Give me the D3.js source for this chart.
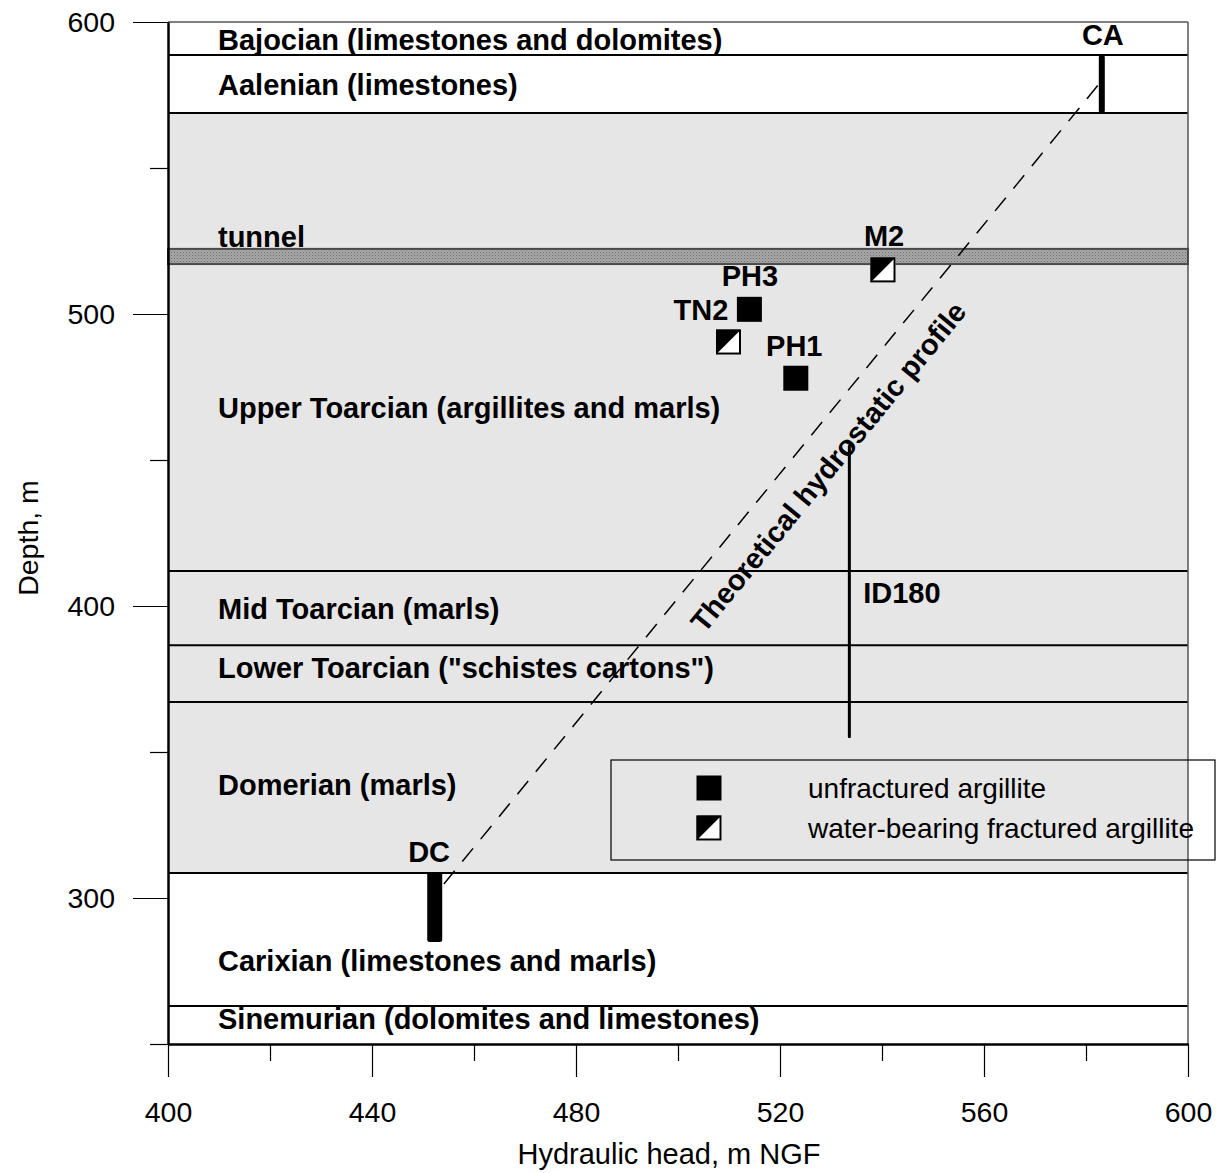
<!DOCTYPE html>
<html>
<head>
<meta charset="utf-8">
<script src="https://cdn.jsdelivr.net/npm/d3@7"></script>
<style>
  html, body { margin: 0; padding: 0; background: #fff; }
  svg { display: block; font-family: "Liberation Sans", Arial, sans-serif; }
</style>
</head>
<body>
<svg id="chart" width="1224" height="1173"></svg>
<script>
// ---------------- data ----------------
const layerNames = [
  "Bajocian (limestones and dolomites)",
  "Aalenian (limestones)",
  "Upper Toarcian (argillites and marls)",
  "Mid Toarcian (marls)",
  "Lower Toarcian (\"schistes cartons\")",
  "Domerian (marls)",
  "Carixian (limestones and marls)",
  "Sinemurian (dolomites and limestones)"
];
const layerTops    = [600, 588.7, 568.8, 412.0, 386.6, 367.1, 308.6, 263.0];
const layerBottoms = [588.7, 568.8, 412.0, 386.6, 367.1, 308.6, 263.0, 250];
const layerLabelDepths = [590.4, 575.0, 464.4, 395.6, 375.3, 335.3, 275.0, 255.1];

// argillaceous (shaded) interval
const argilliteTop = 568.8;
const argilliteBottom = 308.6;

// tunnel
const tunnelName = "tunnel";
const tunnelTop = 522.3;
const tunnelBottom = 517.1;
const tunnelLabelDepth = 522.9;

// boreholes (vertical intervals)
const boreholeNames   = ["CA", "DC", "ID180"];
const boreholeHeads   = [583.1, 452.3, 533.6];
const boreholeTops    = [588.7, 308.9, 455.1];
const boreholeBottoms = [568.8, 284.9, 354.8];
const boreholeLabelHeads  = [583.3, 451.2, 536.3];
const boreholeLabelDepths = [592.0, 312.3, 401.0];

// point measurements
const sampleNames  = ["M2", "PH3", "TN2", "PH1"];
const sampleHeads  = [540.2, 514.0, 509.9, 523.1];
const sampleDepths = [515.1, 501.6, 490.4, 478.0];
const sampleTypes  = ["fractured", "unfractured", "fractured", "unfractured"];
const sampleLabelHeads  = [540.4, 514.1, 504.5, 522.8];
const sampleLabelDepths = [523.3, 509.6, 497.9, 485.6];

// theoretical hydrostatic profile
const hydroHeads  = [454.1, 582.7];
const hydroDepths = [304.8, 579.1];
const hydroLabel = "Theoretical hydrostatic profile";
const hydroLabelHead = 531.0;
const hydroLabelDepth = 445.5;

// axes
const xMajorTicks = [400, 440, 480, 520, 560, 600];
const xMinorTicks = [420, 460, 500, 540, 580];
const yMajorTicks = [300, 400, 500, 600];
const yMinorTicks = [250, 350, 450, 550];
const xTitle = "Hydraulic head, m NGF";
const yTitle = "Depth, m";

const legendLabels = ["unfractured argillite", "water-bearing fractured argillite"];
const legendTypes = ["unfractured", "fractured"];

// ---------------- drawing ----------------
const svg = d3.select("#chart");
const x = d3.scaleLinear().domain([400, 600]).range([168, 1188]);
const y = d3.scaleLinear().domain([250, 600]).range([1044, 22]);
const FONT = 28;
const BFONT = 29;

const defs = svg.append("defs");
const pat = defs.append("pattern").attr("id", "stipple")
  .attr("width", 3).attr("height", 3).attr("patternUnits", "userSpaceOnUse");
pat.append("rect").attr("width", 3).attr("height", 3).attr("fill", "#a9a9a9");
pat.append("rect").attr("x", 0).attr("y", 0).attr("width", 1).attr("height", 1).attr("fill", "#6a6a6a");
pat.append("rect").attr("x", 1.5).attr("y", 1.5).attr("width", 1).attr("height", 1).attr("fill", "#7a7a7a");

const plot = svg.append("g");

// shaded argillite interval
plot.append("rect")
  .attr("x", x(400)).attr("width", x(600) - x(400))
  .attr("y", y(argilliteTop)).attr("height", y(argilliteBottom) - y(argilliteTop))
  .attr("fill", "#e6e6e6");

// layer boundaries
const bounds = layerTops.slice(1);
plot.selectAll("line.bound").data(bounds).join("line")
  .attr("class", "bound")
  .attr("x1", x(400)).attr("x2", x(600))
  .attr("y1", d => y(d)).attr("y2", d => y(d))
  .attr("stroke", "#000").attr("stroke-width", 2);

// top and right frame (grey)
plot.append("line").attr("x1", x(400)).attr("x2", x(600))
  .attr("y1", y(600)).attr("y2", y(600))
  .attr("stroke", "#7f7f7f").attr("stroke-width", 2);
plot.append("line").attr("x1", x(600)).attr("x2", x(600))
  .attr("y1", y(600)).attr("y2", y(250))
  .attr("stroke", "#555").attr("stroke-width", 1.5);

// tunnel band
plot.append("rect")
  .attr("x", x(400)).attr("width", x(600) - x(400))
  .attr("y", y(tunnelTop)).attr("height", y(tunnelBottom) - y(tunnelTop))
  .attr("fill", "url(#stipple)")
  .attr("stroke", "#4a4a4a").attr("stroke-width", 2);

// layer labels
plot.selectAll("text.layer").data(layerNames).join("text")
  .attr("class", "layer")
  .attr("x", x(400) + 50)
  .attr("y", (d, i) => y(layerLabelDepths[i]))
  .attr("font-size", BFONT).attr("font-weight", "bold")
  .text(d => d);
plot.append("text")
  .attr("x", x(400) + 50).attr("y", y(tunnelLabelDepth))
  .attr("font-size", BFONT).attr("font-weight", "bold")
  .text(tunnelName);

// hydrostatic profile
plot.append("line")
  .attr("x1", x(hydroHeads[0])).attr("y1", y(hydroDepths[0]))
  .attr("x2", x(hydroHeads[1])).attr("y2", y(hydroDepths[1]))
  .attr("stroke", "#000").attr("stroke-width", 1.5)
  .attr("stroke-dasharray", "17,12");
const ang = Math.atan2(y(hydroDepths[1]) - y(hydroDepths[0]), x(hydroHeads[1]) - x(hydroHeads[0])) * 180 / Math.PI;
plot.append("text")
  .attr("transform", `translate(${x(hydroLabelHead)},${y(hydroLabelDepth)}) rotate(${ang})`)
  .attr("text-anchor", "middle")
  .attr("font-size", BFONT).attr("font-weight", "bold")
  .text(hydroLabel);

// boreholes
const bhWidth = {CA: 6, DC: 15, ID180: 3};
plot.selectAll("rect.bh").data(boreholeNames).join("rect")
  .attr("class", "bh")
  .attr("x", (d, i) => x(boreholeHeads[i]) - bhWidth[d] / 2)
  .attr("width", d => bhWidth[d])
  .attr("y", (d, i) => y(boreholeTops[i]))
  .attr("height", (d, i) => y(boreholeBottoms[i]) - y(boreholeTops[i]))
  .attr("rx", d => bhWidth[d] > 5 ? 2.5 : 1)
  .attr("fill", "#000");
plot.selectAll("text.bh").data(boreholeNames).join("text")
  .attr("class", "bh")
  .attr("x", (d, i) => x(boreholeLabelHeads[i]))
  .attr("y", (d, i) => y(boreholeLabelDepths[i]))
  .attr("text-anchor", d => d === "ID180" ? "start" : "middle")
  .attr("font-size", BFONT).attr("font-weight", "bold")
  .text(d => d);

// markers
const S = 25;
function drawMarker(g, cx, cy, type) {
  if (type === "unfractured") {
    g.append("rect").attr("x", cx - S / 2).attr("y", cy - S / 2)
      .attr("width", S).attr("height", S).attr("fill", "#000");
  } else {
    g.append("rect").attr("x", cx - S / 2).attr("y", cy - S / 2)
      .attr("width", S).attr("height", S).attr("fill", "#fff");
    g.append("path")
      .attr("d", `M${cx - S / 2},${cy - S / 2}L${cx + S / 2},${cy - S / 2}L${cx - S / 2},${cy + S / 2}Z`)
      .attr("fill", "#000");
    g.append("rect").attr("x", cx - S / 2 + 1).attr("y", cy - S / 2 + 1)
      .attr("width", S - 2).attr("height", S - 2)
      .attr("fill", "none").attr("stroke", "#000").attr("stroke-width", 2);
  }
}
sampleNames.forEach((n, i) => {
  drawMarker(plot.append("g"), x(sampleHeads[i]), y(sampleDepths[i]), sampleTypes[i]);
});
plot.selectAll("text.sample").data(sampleNames).join("text")
  .attr("class", "sample")
  .attr("x", (d, i) => x(sampleLabelHeads[i]))
  .attr("y", (d, i) => y(sampleLabelDepths[i]))
  .attr("text-anchor", "middle")
  .attr("font-size", BFONT).attr("font-weight", "bold")
  .text(d => d);

// axes
const yAxisMajor = d3.axisLeft(y).tickValues(yMajorTicks).tickSize(35).tickSizeOuter(0).tickPadding(18).tickFormat(d3.format("d"));
const yAxisMinor = d3.axisLeft(y).tickValues(yMinorTicks).tickSize(18).tickSizeOuter(0).tickFormat("");
const xAxisMajor = d3.axisBottom(x).tickValues(xMajorTicks).tickSize(33).tickSizeOuter(0).tickPadding(25).tickFormat(d3.format("d"));
const xAxisMinor = d3.axisBottom(x).tickValues(xMinorTicks).tickSize(17).tickSizeOuter(0).tickFormat("");

function styleAxis(g) {
  g.attr("font-family", null).attr("font-size", 28.5);
  g.selectAll("path.domain").attr("stroke", "#000").attr("stroke-width", 2);
  g.selectAll(".tick line").attr("stroke", "#000").attr("stroke-width", 1.2);
  g.selectAll(".tick text").attr("fill", "#000");
}
svg.append("g").attr("transform", `translate(${x(400)},0)`).call(yAxisMinor).call(styleAxis);
svg.append("g").attr("transform", `translate(${x(400)},0)`).call(yAxisMajor).call(styleAxis);
svg.append("g").attr("transform", `translate(0,${y(250)})`).call(xAxisMinor).call(styleAxis);
svg.append("g").attr("transform", `translate(0,${y(250)})`).call(xAxisMajor).call(styleAxis);

// axis titles
svg.append("text").attr("x", 669).attr("y", 1164)
  .attr("text-anchor", "middle").attr("font-size", 29).text(xTitle);
svg.append("text").attr("transform", "translate(38,538) rotate(-90)")
  .attr("text-anchor", "middle").attr("font-size", 28.5).text(yTitle);

// legend
const lg = svg.append("g");
lg.append("rect").attr("x", 611).attr("y", 760).attr("width", 604).attr("height", 100)
  .attr("fill", "none").attr("stroke", "#000").attr("stroke-width", 1.2);
legendLabels.forEach((lab, i) => {
  const cy = 788 + i * 40;
  drawMarker(lg, 709, cy, legendTypes[i]);
  lg.append("text").attr("x", 808).attr("y", cy + 10)
    .attr("font-size", FONT).text(lab);
});
</script>
</body>
</html>
